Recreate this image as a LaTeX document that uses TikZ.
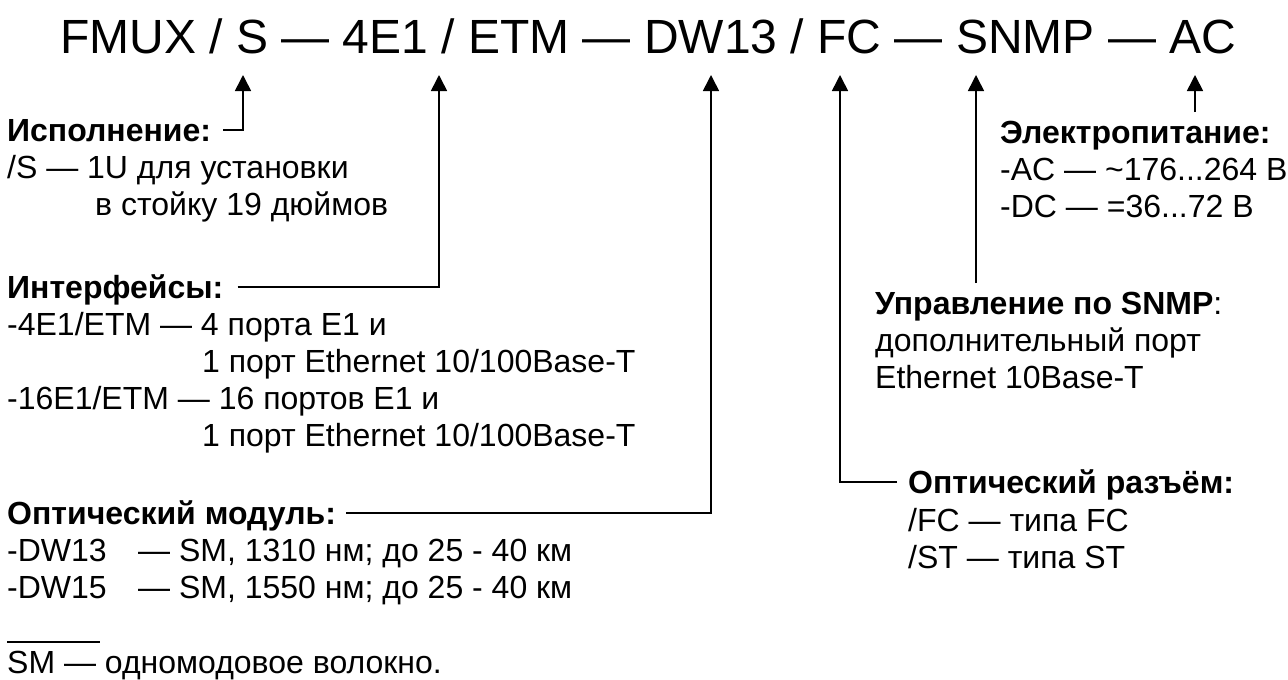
\documentclass[tikz,border=0pt]{standalone}
\usepackage{fontspec}
\setmainfont{Liberation Sans}
\usetikzlibrary{arrows.meta}
\begin{document}
\begin{tikzpicture}[x=1pt,y=-1pt,
  txt/.style={anchor=base west,inner sep=0pt,font=\fontsize{32}{37}\selectfont},
  hd/.style={txt,font=\fontsize{32}{37}\selectfont\bfseries},
  conn/.style={line width=1.6pt,-{Triangle[length=16pt,width=16pt]}},
  plainline/.style={line width=1.6pt}]
\useasboundingbox (0,0) rectangle (1288,680);
\node[anchor=base west,inner sep=0pt,font=\fontsize{48}{56}\selectfont] (title) at (60,53) {FMUX / S — 4E1 / ETM — DW13 / FC — SNMP — AC};
% left column
\node[hd] (isp) at (7,141.5) {Исполнение:};
\node[txt] (isp1) at (7,178.5) {/S — 1U для установки};
\node[txt] (isp2) at (95,215.5) {в стойку 19 дюймов};
\node[hd] (intf) at (7,298.5) {Интерфейсы:};
\node[txt] (i1) at (7,335.5) {-4E1/ETM — 4 порта E1 и};
\node[txt] (i2) at (202,372.5) {1 порт Ethernet 10/100Base-T};
\node[txt] (i3) at (7,409.5) {-16E1/ETM — 16 портов E1 и};
\node[txt] (i4) at (202,446.5) {1 порт Ethernet 10/100Base-T};
\node[hd] (opt) at (7,524.5) {Оптический модуль:};
\node[txt] (o1) at (7,561.5) {\makebox[131pt][l]{-DW13}— SM, 1310 нм; до 25 - 40 км};
\node[txt] (o2) at (7,598.5) {\makebox[131pt][l]{-DW15}— SM, 1550 нм; до 25 - 40 км};
\coordinate (r1) at (7,642);
\coordinate (r2) at (100,642);
\draw[plainline] (r1) -- (r2);
\node[txt] (sm) at (7,673) {SM — одномодовое волокно.};
% right column
\node[hd] (pw) at (1000,143.5) {Электропитание:};
\node[txt] (pw1) at (1000,180.5) {-AC — \textasciitilde176...264 В};
\node[txt] (pw2) at (1000,217.5) {-DC — =36...72 В};
\node[txt] (sn) at (875,314.5) {\textbf{Управление по SNMP}:};
\node[txt] (sn1) at (875,351.5) {дополнительный порт};
\node[txt] (sn2) at (875,388.5) {Ethernet 10Base-T};
\node[hd] (fc) at (908,493.5) {Оптический разъём:};
\node[txt] (fc1) at (908,531) {/FC — типа FC};
\node[txt] (fc2) at (908,568) {/ST — типа ST};
% arrow tips under the title
\coordinate (tS) at (243,75);
\coordinate (tE) at (439,75);
\coordinate (tD) at (711,75);
\coordinate (tF) at (840,75);
\coordinate (tN) at (976,75);
\coordinate (tA) at (1195,75);
\coordinate (sN) at (976,283);
\coordinate (sA) at (1195,112);
\draw[conn] ([xshift=12pt,yshift=11.5pt]isp.base east) -| (tS);
\draw[conn] ([xshift=14pt,yshift=11.5pt]intf.base east) -| (tE);
\draw[conn] ([xshift=10pt,yshift=11.5pt]opt.base east) -| (tD);
\draw[conn] ([xshift=-11pt,yshift=11.5pt]fc.base west) -| (tF);
\draw[conn] (sN) -- (tN);
\draw[conn] (sA) -- (tA);
\end{tikzpicture}
\end{document}
